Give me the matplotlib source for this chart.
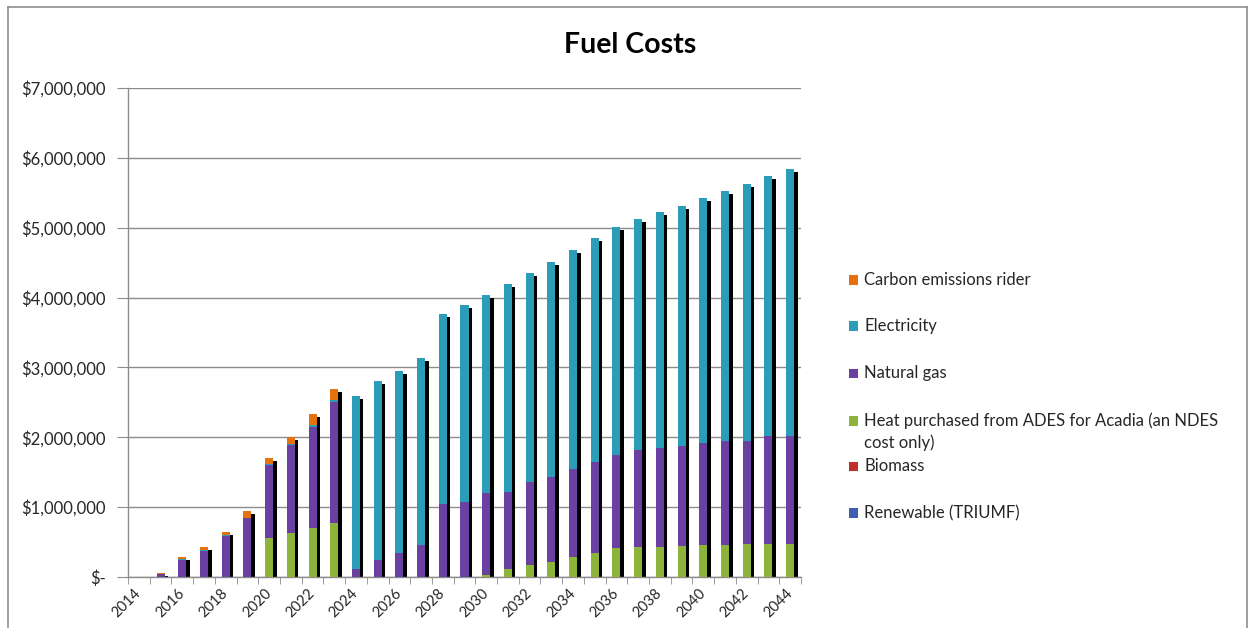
import matplotlib
matplotlib.use("Agg")
import matplotlib.pyplot as plt
import matplotlib.transforms as mtransforms
from matplotlib.patches import Rectangle
from matplotlib.lines import Line2D
from matplotlib.ticker import MultipleLocator, FuncFormatter, FixedLocator
import numpy as np

plt.rcParams["font.family"] = ["Lato", "DejaVu Sans"]

# ---- data (annual fuel costs, $) ----
years = list(range(2014, 2045))

renewable = [0] * 31
biomass = [0] * 31
heat = [0, 0, 0, 0, 0, 0,
        560000, 630000, 700000, 770000,
        0, 0, 0, 0, 0, 0,
        30000, 120000, 170000, 220000, 280000, 350000, 420000, 430000,
        430000, 440000, 460000, 460000, 470000, 470000, 470000]
natural_gas = [0, 40000, 250000, 370000, 580000, 840000,
               1040000, 1260000, 1450000, 1740000,
               120000, 250000, 350000, 460000, 1040000, 1080000,
               1170000, 1090000, 1190000, 1210000, 1260000, 1300000, 1330000, 1390000,
               1410000, 1430000, 1460000, 1480000, 1480000, 1550000, 1550000]
electricity = [0, 10000, 10000, 20000, 20000, 10000,
               20000, 20000, 30000, 20000,
               2470000, 2560000, 2600000, 2680000, 2720000, 2810000,
               2840000, 2980000, 2990000, 3080000, 3140000, 3200000, 3260000, 3300000,
               3380000, 3440000, 3500000, 3590000, 3680000, 3720000, 3820000]
carbon = [0, 10000, 30000, 40000, 40000, 90000,
          80000, 100000, 150000, 160000,
          0, 0, 0, 0, 0, 0,
          0, 0, 0, 0, 0, 0, 0, 0,
          0, 0, 0, 0, 0, 0, 0]

# stacked bottom -> top
series = [
    ("Renewable (TRIUMF)", renewable, "#3F5DB0"),
    ("Biomass", biomass, "#C0302B"),
    ("Heat purchased from ADES for Acadia (an NDES\ncost only)", heat, "#8DB33A"),
    ("Natural gas", natural_gas, "#6A40A0"),
    ("Electricity", electricity, "#2C9DB8"),
    ("Carbon emissions rider", carbon, "#E4730F"),
]

W, H = 1250, 628
fig = plt.figure(figsize=(W / 100, H / 100), dpi=100)
fig.patch.set_facecolor("white")


def fx(px):
    return px / W


def fy(py):
    return 1 - py / H


ax = fig.add_axes([fx(128), fy(577), fx(801) - fx(128), fy(88) - fy(577)])

x = np.arange(len(years))
bar_w = 0.37
totals = np.sum([np.array(s[1], dtype=float) for s in series], axis=0)

# depth shadow behind each column
shadow_tr = mtransforms.offset_copy(ax.transData, fig=fig, x=3.5, y=-3, units="dots")
shadow = ax.bar(x, totals, width=bar_w, color="black", zorder=2)
for p in shadow.patches:
    p.set_transform(shadow_tr)

bottom = np.zeros(len(years))
for name, vals, col in series:
    v = np.array(vals, dtype=float)
    ax.bar(x, v, width=bar_w, bottom=bottom, color=col, zorder=3, linewidth=0)
    bottom += v

ax.set_xlim(-0.5, len(years) - 0.5)
ax.set_ylim(0, 7_000_000)

grid_col = "#8C8C8C"
text_col = "#262626"
ax.yaxis.set_major_locator(MultipleLocator(1_000_000))
ax.yaxis.set_major_formatter(FuncFormatter(lambda v, p: "$-" if v == 0 else f"${v:,.0f}"))
ax.yaxis.grid(True, color=grid_col, linewidth=1)
ax.set_axisbelow(True)
ax.tick_params(axis="y", length=8, color=grid_col, labelsize=12, pad=8, labelcolor=text_col)

ax.xaxis.set_major_locator(FixedLocator(x[::2]))
ax.set_xticklabels([str(y) for y in years[::2]])
ax.xaxis.set_minor_locator(FixedLocator(np.arange(-0.5, len(years), 1.0)))
ax.tick_params(axis="x", which="major", length=0, pad=10, labelsize=10.5, labelcolor=text_col)
ax.tick_params(axis="x", which="minor", length=5, color=grid_col)
for lab in ax.get_xticklabels():
    lab.set_rotation(45)
    lab.set_ha("right")
    lab.set_va("center")
    lab.set_rotation_mode("anchor")

for s in ("top", "right"):
    ax.spines[s].set_visible(False)
for s in ("left", "bottom"):
    ax.spines[s].set_color(grid_col)
    ax.spines[s].set_linewidth(1)

# title
fig.text(fx(630), fy(45), "Fuel Costs", ha="center", va="center",
         fontsize=20.5, fontweight="bold", color="black")

# legend, listed from the top of the stack down
legend_rows = [
    ("Carbon emissions rider", "#E4730F", 280),
    ("Electricity", "#2C9DB8", 326),
    ("Natural gas", "#6A40A0", 373),
    ("Heat purchased from ADES for Acadia (an NDES\ncost only)", "#8DB33A", 421),
    ("Biomass", "#C0302B", 466),
    ("Renewable (TRIUMF)", "#3F5DB0", 513),
]
for label, col, py in legend_rows:
    fig.add_artist(Rectangle((fx(849), fy(py + 4.5)), fx(9), fy(py - 4.5) - fy(py + 4.5),
                             transform=fig.transFigure, facecolor=col, edgecolor="none"))
    for i, line in enumerate(label.split("\n")):
        fig.text(fx(864), fy(py + 22 * i), line, ha="left", va="center",
                 fontsize=12, color=text_col)

# chart frame
frame_col = "#8F8F8F"
for xs, ys in (([8, 1247], [7, 7]), ([8, 8], [7, 628]), ([1247, 1247], [7, 628])):
    fig.add_artist(Line2D([fx(v) for v in xs], [fy(v) for v in ys],
                          transform=fig.transFigure, color=frame_col, linewidth=1.2))

fig.savefig("out.png", dpi=100, facecolor="white")
